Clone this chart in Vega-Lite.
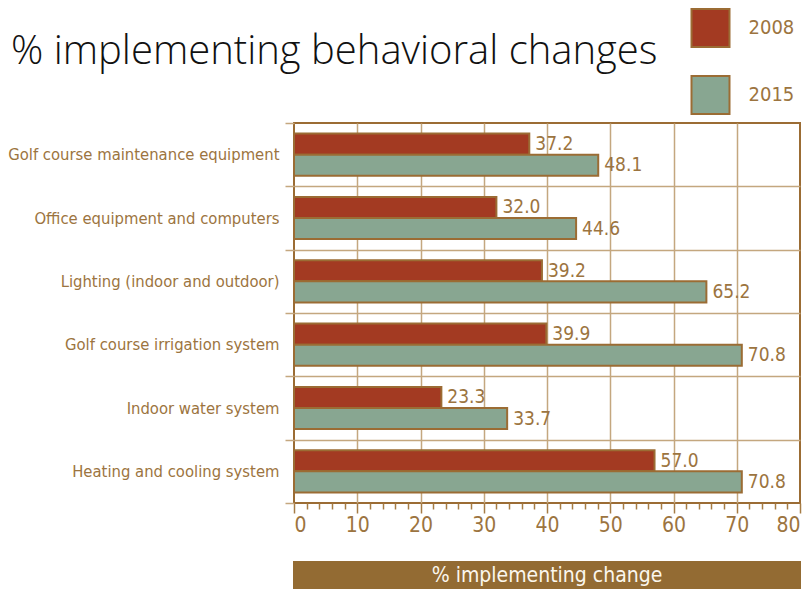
{
  "$schema": "https://vega.github.io/schema/vega-lite/v6.json",
  "background": "white",
  "padding": {"left": 6, "top": 8, "right": 0, "bottom": 0},
  "bounds": "flush",
  "spacing": 59,
  "config": {
    "view": {"stroke": null},
    "font": "DejaVu Sans Condensed, Liberation Sans Narrow, Roboto, sans-serif"
  },
  "vconcat": [
    {
      "width": 506,
      "height": 380,
      "view": {"stroke": "#9b6c34", "strokeWidth": 2},
      "title": {
        "text": "% implementing behavioral changes",
        "anchor": "start",
        "frame": "group",
        "dx": -283,
        "dy": -39,
        "fontSize": 40,
        "font": "Open Sans",
        "fontWeight": 300,
        "color": "#111111"
      },
      "data": {
        "values": [
          {"category": "Golf course maintenance equipment", "year": "2008", "value": 37.2},
          {"category": "Golf course maintenance equipment", "year": "2015", "value": 48.1},
          {"category": "Office equipment and computers", "year": "2008", "value": 32.0},
          {"category": "Office equipment and computers", "year": "2015", "value": 44.6},
          {"category": "Lighting (indoor and outdoor)", "year": "2008", "value": 39.2},
          {"category": "Lighting (indoor and outdoor)", "year": "2015", "value": 65.2},
          {"category": "Golf course irrigation system", "year": "2008", "value": 39.9},
          {"category": "Golf course irrigation system", "year": "2015", "value": 70.8},
          {"category": "Indoor water system", "year": "2008", "value": 23.3},
          {"category": "Indoor water system", "year": "2015", "value": 33.7},
          {"category": "Heating and cooling system", "year": "2008", "value": 57.0},
          {"category": "Heating and cooling system", "year": "2015", "value": 70.8}
        ]
      },
      "encoding": {
        "y": {
          "field": "category",
          "type": "nominal",
          "sort": null,
          "scale": {"paddingInner": 0, "paddingOuter": 0},
          "axis": {
            "title": null,
            "domain": false,
            "tickBand": "extent",
            "tickSize": 9,
            "tickColor": "#c4a77f",
            "tickWidth": 1.5,
            "grid": true,
            "gridColor": "#c4a77f",
            "gridWidth": 1.5,
            "gridOpacity": {"condition": {"test": "datum.value == null || datum.value === 'Heating and cooling system'", "value": 0}, "value": 1},
            "labelFont": "DejaVu Sans Condensed, Liberation Sans Narrow, Roboto, sans-serif",
            "labelFontSize": 16.5,
            "labelColor": "#9c7440",
            "labelPadding": 6,
            "labelLimit": 400
          }
        },
        "yOffset": {
          "field": "year",
          "type": "nominal",
          "scale": {"paddingOuter": 0.5, "paddingInner": 0}
        },
        "x": {
          "field": "value",
          "type": "quantitative",
          "scale": {"domain": [0, 80], "nice": false},
          "axis": {
            "title": null,
            "domain": false,
            "values": [0, 2, 4, 6, 8, 10, 12, 14, 16, 18, 20, 22, 24, 26, 28, 30, 32, 34, 36, 38, 40, 42, 44, 46, 48, 50, 52, 54, 56, 58, 60, 62, 64, 66, 68, 70, 72, 74, 76, 78, 80],
            "grid": true,
            "gridColor": "#c4a77f",
            "gridWidth": 1.5,
            "gridOpacity": {"condition": {"test": "datum.value % 10 === 0 && datum.value > 0 && datum.value < 80", "value": 1}, "value": 0},
            "tickColor": "#a67c45",
            "tickWidth": 1.5,
            "tickSize": {"condition": {"test": "datum.value % 10 === 0", "value": 10}, "value": 6},
            "labelExpr": "datum.value % 10 === 0 ? datum.label : ''",
            "labelFont": "DejaVu Sans Condensed, Liberation Sans Narrow, Roboto, sans-serif",
            "labelFontSize": 21,
            "labelColor": "#9c7440",
            "labelPadding": 1
          }
        }
      },
      "layer": [
        {
          "mark": {"type": "bar", "stroke": "#9b6c34", "strokeWidth": 2},
          "encoding": {
            "color": {
              "field": "year",
              "type": "nominal",
              "scale": {"domain": ["2008", "2015"], "range": ["#a33a22", "#88a691"]},
              "legend": {
                "orient": "none",
                "legendX": 396.5,
                "legendY": -115,
                "title": null,
                "symbolType": "square",
                "symbolSize": 1444,
                "symbolStrokeColor": "#9b6c34",
                "symbolStrokeWidth": 2,
                "symbolOpacity": 1,
                "labelFont": "DejaVu Sans Condensed, Liberation Sans Narrow, Roboto, sans-serif",
                "labelFontSize": 20,
                "labelColor": "#9c7440",
                "labelOffset": 18,
                "rowPadding": 21,
                "padding": 0
              }
            }
          }
        },
        {
          "mark": {"type": "text", "align": "left", "baseline": "middle", "dx": 6, "fontSize": 19, "font": "DejaVu Sans Condensed, Liberation Sans Narrow, Roboto, sans-serif", "color": "#9c7440"},
          "encoding": {
            "text": {"field": "value", "type": "quantitative", "format": ".1f"}
          }
        }
      ]
    },
    {
      "width": 506,
      "height": 28,
      "view": {"fill": "#936b33", "stroke": "#936b33", "strokeWidth": 2},
      "data": {"values": [{"t": "% implementing change"}]},
      "mark": {"type": "text", "color": "#fbf7ee", "fontSize": 21, "font": "DejaVu Sans Condensed, Liberation Sans Narrow, Roboto, sans-serif", "baseline": "middle"},
      "encoding": {"text": {"field": "t"}}
    }
  ]
}
